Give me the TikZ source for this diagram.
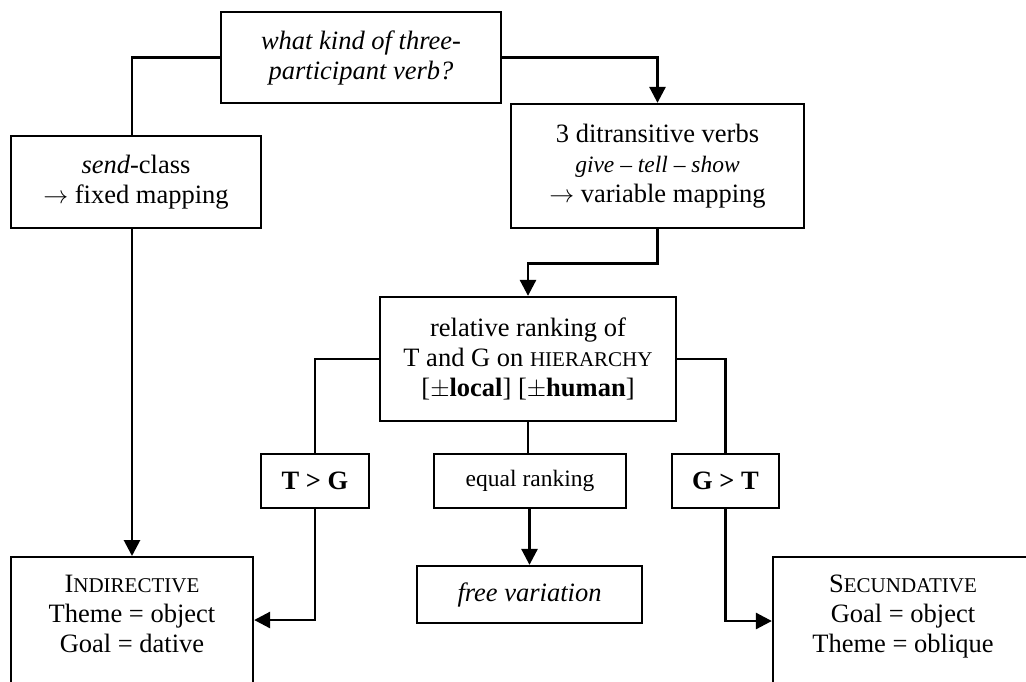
\documentclass[tikz,border=0pt]{standalone}
\usepackage{fontspec}
\setmainfont{Liberation Serif}
\usetikzlibrary{arrows.meta}
\newcommand{\mainsz}{\fontsize{26.5}{30}\selectfont}
\newcommand{\smallsz}{\fontsize{23.5}{30}\selectfont}
\newcommand{\scsz}{\fontsize{21}{30}\selectfont}
\begin{document}
\begin{tikzpicture}[x=1pt,y=-1pt,
  box/.style={draw, line width=2.3pt, align=center, inner sep=0pt, font=\mainsz},
  conn/.style={line width=2.8pt},
  arr/.style={conn, -{Triangle[length=16pt,width=16pt]}}]
\useasboundingbox (0,0) rectangle (1026,681);
\clip (0,0) rectangle (1026,681);
\fill[white] (0,0) rectangle (1026,681);

\node[box, minimum width=280pt, minimum height=91pt] (q) at (361,57.5)
  {\textit{what kind of three-}\\\textit{participant verb?}};
\node[box, minimum width=250pt, minimum height=92pt] (send) at (136,182)
  {\textit{send}-class\\$\rightarrow$ fixed mapping};
\node[box, minimum width=293pt, minimum height=124pt] (ditr) at (657.5,166)
  {3 ditransitive verbs\\{\smallsz\textit{give} -- \textit{tell} -- \textit{show}}\\$\rightarrow$ variable mapping};
\node[box, minimum width=296pt, minimum height=124pt] (rel) at (528,359)
  {relative ranking of\\T and G on {\scsz HIERARCHY}\\{[}$\pm$\textbf{local}{]} {[}$\pm$\textbf{human}{]}};
\node[box, minimum width=108pt, minimum height=54pt] (tg) at (315,481) {\textbf{T > G}};
\node[box, minimum width=192pt, minimum height=54pt, font=\smallsz] (eq) at (530,481) {equal ranking};
\node[box, minimum width=107pt, minimum height=54pt] (gt) at (725.5,481) {\textbf{G > T}};
\node[box, minimum width=225pt, minimum height=57pt] (free) at (529.5,594.5) {\textit{free variation}};
\node[box, minimum width=242pt, inner ysep=18pt, text depth=90pt, anchor=north] (ind) at (132,556)
  {I{\scsz NDIRECTIVE}\\Theme = object\\Goal = dative};
\node[box, minimum width=260pt, inner ysep=18pt, text depth=90pt, anchor=north] (sec) at (903,556)
  {S{\scsz ECUNDATIVE}\\Goal = object\\Theme = oblique};

\coordinate (lvl1) at (0,620);
\coordinate (lvl2) at (0,621);

\draw[conn] (q.west) -| (ind.north |- send.north);
\draw[arr] (send.south -| ind.north) -- (ind.north);
\draw[arr] (q.east) -| (ditr.north);
\draw[arr] (ditr.south) -- ++(0,34) -| (rel.north);
\draw[conn] (rel.west) -| (tg.north);
\draw[conn] (rel.east) -| (gt.north);
\draw[conn] (rel.south) -- (rel.south |- eq.north);
\draw[arr] (free.north |- eq.south) -- (free.north);
\draw[arr] (tg.south) |- (ind.east |- lvl1);
\draw[arr] (gt.south) |- (sec.west |- lvl2);
\end{tikzpicture}
\end{document}
